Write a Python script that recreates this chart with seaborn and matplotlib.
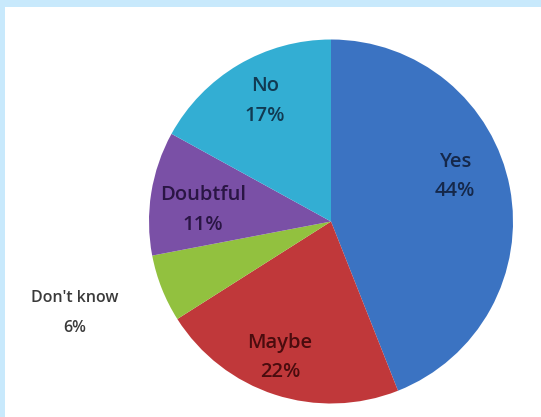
import matplotlib
matplotlib.use("Agg")
import matplotlib.pyplot as plt
import seaborn as sns
from matplotlib.patches import Rectangle

# Survey answers, clockwise from 12 o'clock
categories = ["Yes", "Maybe", "Don't know", "Doubtful", "No"]
shares = [44, 22, 6, 11, 17]

slice_colors = ["#3B73C2", "#C0383A", "#92C13F", "#7A50A6", "#33AED3"]
label_colors = ["#15284A", "#4A0C0E", "#3A3A3A", "#2A1544", "#113A52"]
# label centres in pie units (radius = 1) and label sizes
label_xy = [(0.68, 0.245), (-0.28, -0.747), (-1.407, -0.503), (-0.703, 0.063), (-0.363, 0.662)]
label_size = [14.5, 14.5, 11.5, 14.5, 14.5]

sns.set_theme(style="white")
plt.rcParams["font.family"] = ["Open Sans", "DejaVu Sans"]

fig = plt.figure(figsize=(5.41, 4.17), dpi=100)
fig.patch.set_facecolor("white")

# pale blue frame along the top and left edges
fig.patches.append(Rectangle((0, 1 - 7 / 417), 1, 7 / 417, transform=fig.transFigure,
                             facecolor="#C8E9FC", edgecolor="none", zorder=0))
fig.patches.append(Rectangle((0, 0), 4.5 / 541, 1, transform=fig.transFigure,
                             facecolor="#C8E9FC", edgecolor="none", zorder=0))

ax = fig.add_axes([149 / 541, 13.5 / 417, 364 / 541, 364 / 417])
ax.pie(shares, colors=slice_colors, startangle=90, counterclock=False,
       radius=1.0, wedgeprops=dict(edgecolor="none"))
ax.set_xlim(-1, 1)
ax.set_ylim(-1, 1)
ax.set_aspect("equal")
ax.axis("off")

for name, val, (x, y), c, fs in zip(categories, shares, label_xy, label_colors, label_size):
    ax.text(x, y + 0.08, name, ha="center", va="center", fontsize=fs,
            fontweight="semibold", color=c, clip_on=False)
    ax.text(x, y - 0.08, f"{val}%", ha="center", va="center", fontsize=fs,
            fontweight="semibold", color=c, clip_on=False)

fig.savefig("out.png", dpi=100)
